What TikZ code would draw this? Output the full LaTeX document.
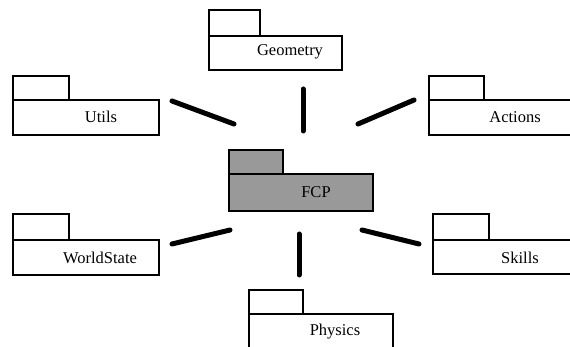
\documentclass[tikz,border=0pt]{standalone}
\usepackage{fontspec}
\setmainfont{Liberation Serif}
\definecolor{pkggray}{HTML}{999999}
\newcommand\pkgbox[8]{%
  \node[pkgpart, fill=#8, minimum width={(#4-#2)*1pt}, minimum height={(#5-#3)*1pt}] (#1tab) at (#2,#3) {};
  \node[pkgpart, fill=#8, minimum width={(#6-#2)*1pt}, minimum height={(#7-#5)*1pt}] (#1) at (#2,#5) {};
}
\begin{document}
\begin{tikzpicture}[x=1pt,y=-1pt,
  pkgpart/.style={draw, line width=1.2pt, anchor=north west, inner sep=0pt, outer sep=0pt},
  lbl/.style={inner sep=0pt, font=\fontsize{16.5}{20}\selectfont},
  dep/.style={line width=5pt, line cap=round}]
\useasboundingbox (0,0) rectangle (570,347);
\clip (0,0) rectangle (570,347);
% packages
\pkgbox{geo}{209}{10}{260}{36}{342}{70}{white}
\pkgbox{utl}{13}{76}{69}{100}{159}{135}{white}
\pkgbox{act}{429}{76}{484}{100}{575}{135}{white}
\pkgbox{fcp}{229}{150}{283}{174}{373}{211}{pkggray}
\pkgbox{wst}{13}{214}{69}{240}{159}{275}{white}
\pkgbox{skl}{433}{214}{489}{240}{579}{274}{white}
\pkgbox{phy}{249}{290}{303}{314}{393}{352}{white}
% labels
\node[lbl] (geolabel) at (290,52) {Geometry};
\node[lbl] (utllabel) at (101,117) {Utils};
\node[lbl] (actlabel) at (515,117) {Actions};
\node[lbl] (fcplabel) at (316,192) {FCP};
\node[lbl] (wstlabel) at (100,258) {WorldState};
\node[lbl] (skllabel) at (520,258) {Skills};
\node[lbl] (phylabel) at (335,332) {Physics};
% dependency segments
\coordinate (geoA) at (303,89);
\coordinate (geoB) at (303,131);
\coordinate (utlA) at (172,101);
\coordinate (utlB) at (234,124);
\coordinate (actA) at (358,124);
\coordinate (actB) at (414,100);
\coordinate (wstA) at (172,244);
\coordinate (wstB) at (230,230);
\coordinate (sklA) at (362,230);
\coordinate (sklB) at (419,244);
\coordinate (phyA) at (299,234);
\coordinate (phyB) at (299,275);
\draw[dep] (geoA) -- (geoB);
\draw[dep] (utlA) -- (utlB);
\draw[dep] (actA) -- (actB);
\draw[dep] (wstA) -- (wstB);
\draw[dep] (sklA) -- (sklB);
\draw[dep] (phyA) -- (phyB);
\end{tikzpicture}
\end{document}
